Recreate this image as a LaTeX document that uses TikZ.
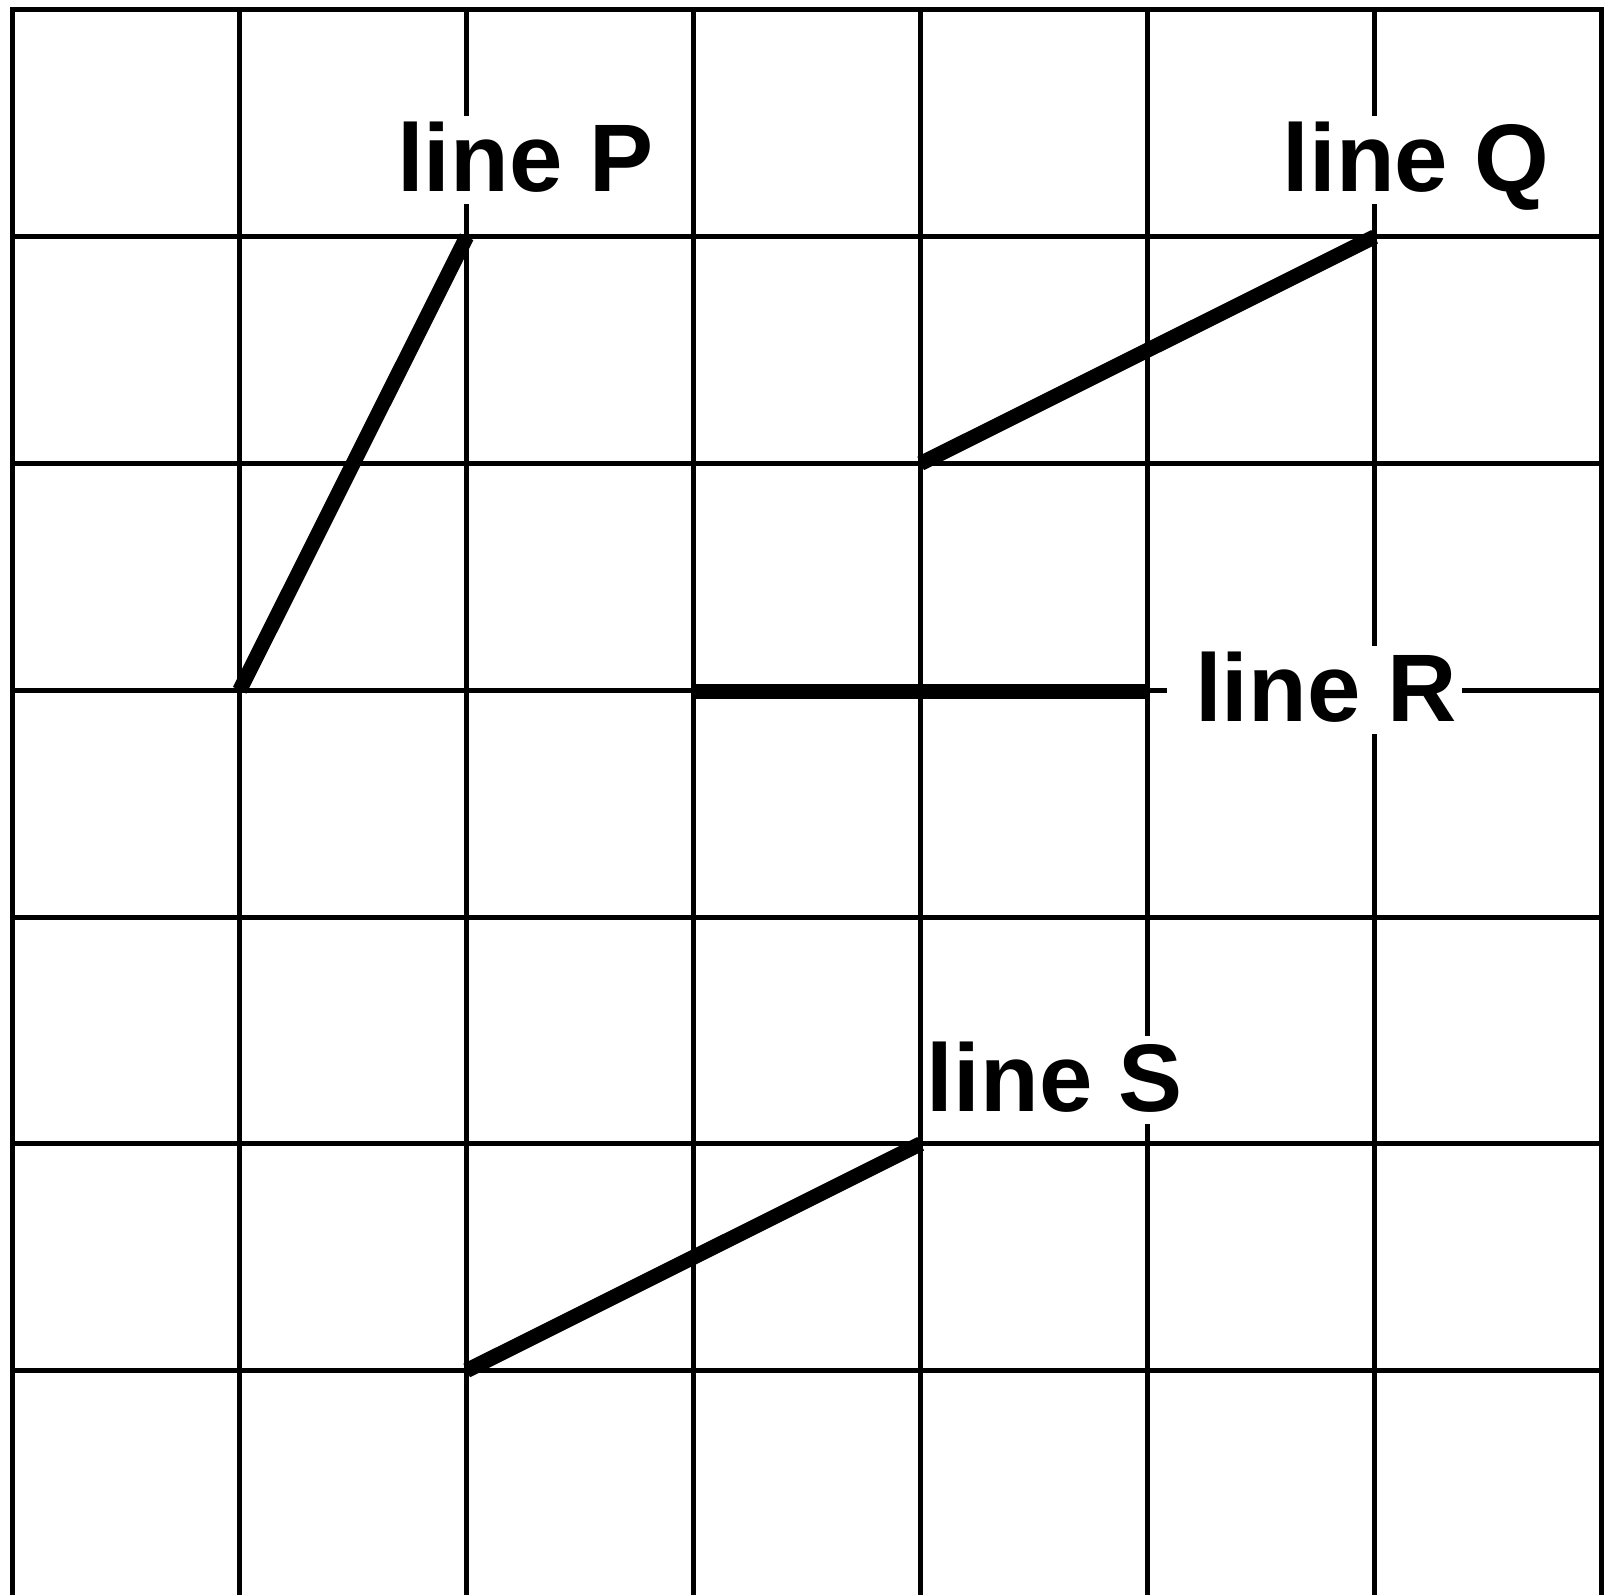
\documentclass[tikz,border=0pt]{standalone}
\usepackage{fontspec}
\setmainfont{Liberation Sans}
\begin{document}
\begin{tikzpicture}[x=1pt,y=-1pt,
  gridline/.style={line width=5pt,line cap=rect},
  thickline/.style={line width=15pt,line cap=butt},
  lbl/.style={font=\fontsize{96pt}{110pt}\selectfont\bfseries,fill=white,
    inner xsep=6pt,inner ysep=0pt,text height=76pt,text depth=12pt,anchor=base}]
\useasboundingbox[fill=white] (0,0) rectangle (1612,1595);
% grid
\foreach \i in {0,...,7}
  \draw[gridline] ({12.7+227*\i},10) -- ({12.7+227*\i},1600);
\foreach \j in {0,...,6}
  \draw[gridline] (12.7,{10+226.75*\j}) -- (1601.7,{10+226.75*\j});
% end points
\coordinate (P1) at (239.7,690.25);
\coordinate (P2) at (466.7,236.75);
\coordinate (Q1) at (920.7,463.5);
\coordinate (Q2) at (1374.7,236.75);
\coordinate (R1) at (693.7,691);
\coordinate (R2) at (1147.7,691);
\coordinate (S1) at (466.7,1370.5);
\coordinate (S2) at (920.7,1143.75);
% thick lines
\draw[thickline] (P1) -- (P2);
\draw[thickline] (Q1) -- (Q2);
\draw[thickline] (R1) -- (R2);
\draw[thickline] (S1) -- (S2);
% labels
\node[lbl] (lP) at (525.3,191.7) {line P};
\node[lbl] (lQ) at (1416,191.7) {line Q};
\node[lbl] (lR) at (1314.7,721.7) {\hspace{22pt}line R};
\node[lbl,inner xsep=0pt] (lS) at (1055,1111.7) {line S};
\end{tikzpicture}
\end{document}
